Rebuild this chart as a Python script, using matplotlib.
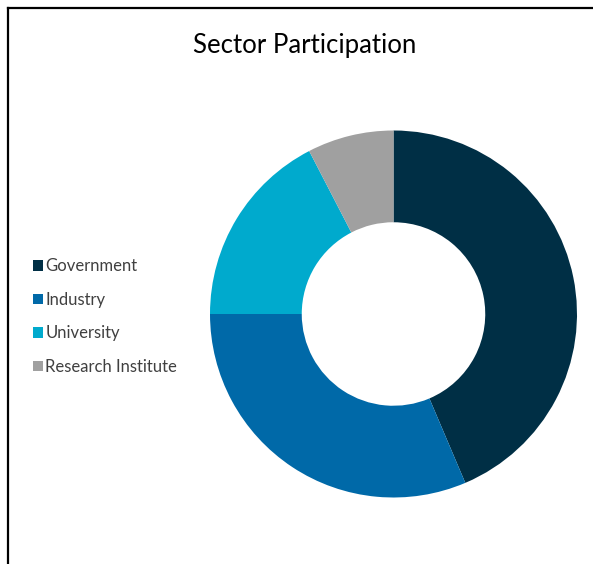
import matplotlib
matplotlib.use("Agg")
import matplotlib.pyplot as plt
from matplotlib.lines import Line2D

categories = ["Government", "Industry", "University", "Research Institute"]
values = [43.6, 31.4, 17.4, 7.6]
colors = ["#002F45", "#0069A8", "#00AACD", "#A0A0A0"]
title = "Sector Participation"

W, H = 593, 564
fig = plt.figure(figsize=(W / 100, H / 100), dpi=100)
fig.patch.set_facecolor("white")

# frame (left and top edges visible)
fig.add_artist(Line2D([7.5 / W, 7.5 / W], [0, 1 - 7.5 / H], color="black", lw=1.6, transform=fig.transFigure))
fig.add_artist(Line2D([7.5 / W, 1], [1 - 7.5 / H, 1 - 7.5 / H], color="black", lw=1.6, transform=fig.transFigure))

cx, cy, r = 393.5, 314, 183.5
ax = fig.add_axes([(cx - r) / W, 1 - (cy + r) / H, 2 * r / W, 2 * r / H])
wedges, _ = ax.pie(values, colors=colors, startangle=90, counterclock=False, radius=1,
                   wedgeprops=dict(width=0.5, edgecolor="none"))
ax.set_xlim(-1, 1)
ax.set_ylim(-1, 1)
ax.set_aspect("equal")
ax.axis("off")

fig.text(305 / W, 1 - 45 / H, title, ha="center", va="center", fontsize=18.5,
         family="Lato", color="#000000")

leg = fig.legend(wedges, categories, loc="upper left",
                 bbox_to_anchor=(25 / W, 1 - 250 / H), bbox_transform=fig.transFigure,
                 frameon=False, prop=dict(family="Lato", size=12),
                 handlelength=0.6, handleheight=0.6, handletextpad=0.12,
                 labelspacing=1.05, borderpad=0)
for t in leg.get_texts():
    t.set_color("#404040")

fig.savefig("out.png", dpi=100)
